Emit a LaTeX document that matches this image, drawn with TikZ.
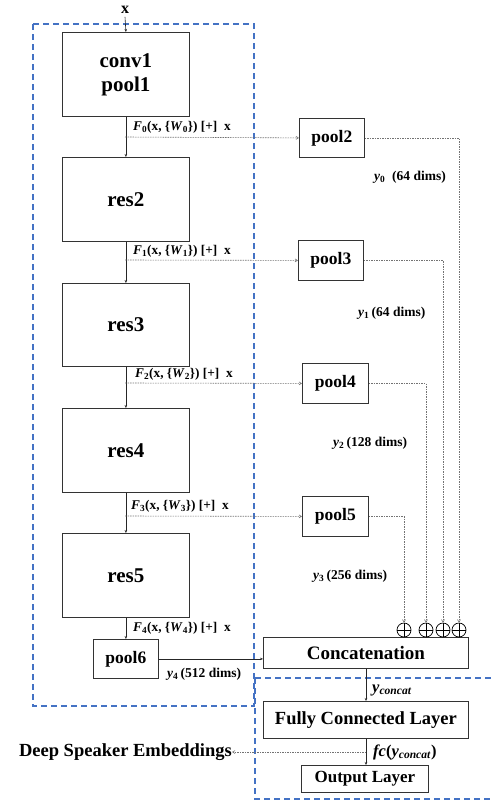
\documentclass[tikz,border=0pt]{standalone}
\usepackage{fontspec}
\setmainfont{Liberation Serif}
\usetikzlibrary{arrows.meta}
\newcommand{\bi}[1]{\textbf{\textit{#1}}}
\begin{document}
\begin{tikzpicture}[x=1pt,y=-1pt,
  blk/.style={draw=black!80,line width=0.8pt,inner sep=0pt,anchor=north west},
  big/.style={font=\fontsize{21}{24}\selectfont\bfseries},
  mid/.style={font=\fontsize{17.5}{20}\selectfont\bfseries},
  flow/.style={draw=black!85,line width=0.6pt,-{Stealth[length=3pt,width=2.5pt]}},
  skip/.style={draw=black!55,line width=0.6pt,dash pattern=on 1.5pt off 1pt},
  skiparrow/.style={skip,-{Straight Barb[length=2.5pt,width=3pt]}},
  grp/.style={draw={rgb,255:red,68;green,114;blue,196},line width=1.5pt,dash pattern=on 6pt off 4pt},
  lbl/.style={font=\fontsize{13.3}{15}\selectfont\bfseries,inner sep=0pt},
  dims/.style={font=\fontsize{13.5}{15}\selectfont\bfseries,inner sep=0pt},
  circ/.style={draw=black,line width=0.7pt,circle,minimum size=14pt,inner sep=0pt,
    path picture={\draw[line width=0.7pt] (path picture bounding box.north) -- (path picture bounding box.south)
      (path picture bounding box.west) -- (path picture bounding box.east);}}]
\useasboundingbox (0,0) rectangle (494,801);

% dashed group frames
\draw[grp] (33,24) rectangle (254,706);
\draw[grp] (255,678) -- (493,678) (255,678) -- (255,799) -- (493,799);

% residual trunk
\node[lbl,font=\fontsize{16}{18}\selectfont\bfseries] (x) at (125,10) {x};
\node[blk,big,minimum width=127pt,minimum height=84pt,align=center] (c1) at (62,32) {conv1\\pool1};
\node[blk,big,minimum width=127pt,minimum height=84pt] (r2) at (62,157) {res2};
\node[blk,big,minimum width=127pt,minimum height=83pt] (r3) at (62,283) {res3};
\node[blk,big,minimum width=127pt,minimum height=84pt] (r4) at (62,408) {res4};
\node[blk,big,minimum width=127pt,minimum height=84pt] (r5) at (62,533) {res5};
\node[blk,mid,minimum width=65pt,minimum height=39pt] (p6) at (93,639) {pool6};

% side poolings
\node[blk,mid,minimum width=65pt,minimum height=39pt] (p2) at (299,118) {pool2};
\node[blk,mid,minimum width=65pt,minimum height=40pt] (p3) at (298,240) {pool3};
\node[blk,mid,minimum width=66pt,minimum height=40pt] (p4) at (302,363) {pool4};
\node[blk,mid,minimum width=66pt,minimum height=40pt] (p5) at (302,496) {pool5};

% head
\node[blk,font=\fontsize{19}{22}\selectfont\bfseries,minimum width=205pt,minimum height=31pt] (cat) at (263,637) {Concatenation};
\node[blk,font=\fontsize{18.5}{21}\selectfont\bfseries,minimum width=205pt,minimum height=37pt] (fc) at (263,701) {Fully Connected Layer};
\node[blk,font=\fontsize{17}{19}\selectfont\bfseries,minimum width=127pt,minimum height=27pt] (out) at (301,765) {Output Layer};
\node[lbl,font=\fontsize{18.5}{21}\selectfont\bfseries,anchor=east] (emb) at (232,752) {Deep Speaker Embeddings};

% summation markers
\node[circ] (s3) at (404,630) {};
\node[circ] (s2) at (426,630) {};
\node[circ] (s1) at (443,630) {};
\node[circ] (s0) at (459,630) {};

% main flow
\draw[flow] (x.south) ++(0,3) -- (c1.north);
\draw[flow] (c1.south) -- (r2.north);
\draw[flow] (r2.south) -- (r3.north);
\draw[flow] (r3.south) -- (r4.north);
\draw[flow] (r4.south) -- (r5.north);
\draw[flow] (r5.south) -- (p6.north);
\draw[flow] (p6.east) -- (p6.east -| cat.west);
\draw[flow] (cat.south -| 366,0) -- (fc.north -| 366,0);
\draw[flow] (fc.south -| 366,0) -- (out.north -| 366,0);

% branch taps
\coordinate (t0) at (125,137);
\coordinate (t1) at (125,260);
\coordinate (t2) at (125,383);
\coordinate (t3) at (125,516);
\coordinate (te) at (366,752);
\draw[skiparrow] (t0) -- (p2.west);
\draw[skiparrow] (t1) -- (p3.west);
\draw[skiparrow] (t2) -- (p4.west);
\draw[skiparrow] (t3) -- (p5.west);
\draw[skiparrow] (te) -- (emb.east);

% pooled outputs into the sums
\draw[skiparrow] (p2.east) -| (s0.north);
\draw[skiparrow] (p3.east) -| (s1.north);
\draw[skiparrow] (p4.east) -| (s2.north);
\draw[skiparrow] (p5.east) -| (s3.north);

% labels
\node[lbl,anchor=west] (l0) at (133,127) {\bi{F}\textsubscript{0}(x, \{\bi{W}\textsubscript{0}\}) [+]\ \ x};
\node[lbl,anchor=west] (l1) at (133,251) {\bi{F}\textsubscript{1}(x, \{\bi{W}\textsubscript{1}\}) [+]\ \ x};
\node[lbl,anchor=west] (l2) at (135,374) {\bi{F}\textsubscript{2}(x, \{\bi{W}\textsubscript{2}\}) [+]\ \ x};
\node[lbl,anchor=west] (l3) at (131,506) {\bi{F}\textsubscript{3}(x, \{\bi{W}\textsubscript{3}\}) [+]\ \ x};
\node[lbl,anchor=west] (l4) at (133,628) {\bi{F}\textsubscript{4}(x, \{\bi{W}\textsubscript{4}\}) [+]\ \ x};
\node[dims,anchor=west] (y0) at (374,177) {\bi{y}\textsubscript{0}\ \ (64 dims)};
\node[dims,anchor=west] (y1) at (358,313) {\bi{y}\textsubscript{1}\,(64 dims)};
\node[dims,anchor=west] (y2) at (333,443) {\bi{y}\textsubscript{2}\,(128 dims)};
\node[dims,anchor=west] (y3) at (313,576) {\bi{y}\textsubscript{3}\,(256 dims)};
\node[dims,anchor=west] (y4) at (167,674) {\bi{y}\textsubscript{4}\,(512 dims)};
\node[lbl,anchor=west,font=\fontsize{16.5}{18}\selectfont\bfseries] (yc) at (372,690) {\bi{y}\textsubscript{\bi{concat}}};
\node[lbl,anchor=west,font=\fontsize{16.5}{18}\selectfont\bfseries] (yf) at (373,752) {\bi{fc}(\bi{y}\textsubscript{\bi{concat}})};
\end{tikzpicture}
\end{document}
